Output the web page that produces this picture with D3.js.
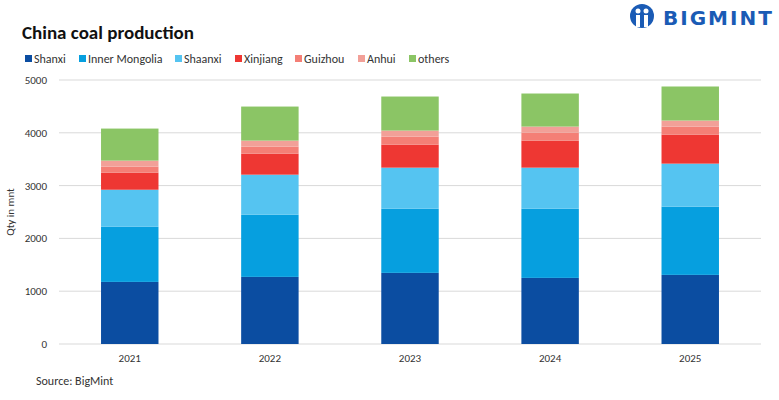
<!DOCTYPE html>
<html><head><meta charset="utf-8">
<script src="https://cdn.jsdelivr.net/npm/d3@7"></script>
<style>body{margin:0;background:#fff;font-family:Calibri,Carlito,"Liberation Sans",sans-serif}</style>
</head><body>
<svg id="chart" width="779" height="400"></svg>
<script>
const years = ["2021","2022","2023","2024","2025"];
const seriesNames = ["Shanxi","Inner Mongolia","Shaanxi","Xinjiang","Guizhou","Anhui","others"];
const shanxi = [1176,1271,1347,1252,1309];
const innerMongolia = [1044,1177,1215,1310,1291];
const shaanxi = [702,759,778,778,816];
const xinjiang = [323,398,436,512,550];
const guizhou = [114,133,152,152,152];
const anhui = [114,114,114,114,114];
const others = [607,645,645,626,645];
const colors = ["#0b4da1","#069fdf","#55c4f1","#ee3733","#f47f76","#f2a098","#8bc565"];
const yTicks = [0,1000,2000,3000,4000,5000];

const allSeries = [shanxi,innerMongolia,shaanxi,xinjiang,guizhou,anhui,others];
const rows = years.map((y,i)=>{ const r={year:y}; seriesNames.forEach((s,j)=>r[s]=allSeries[j][i]); return r; });
const stacked = d3.stack().keys(seriesNames)(rows);

const svg = d3.select("#chart");
const x = d3.scaleBand().domain(years).range([59,761]).paddingInner(0.59).paddingOuter(0.3);
const y = d3.scaleLinear().domain([0,5000]).range([344,80]);

// grid
svg.append("g").selectAll("line").data(yTicks.slice(1)).enter().append("line")
  .attr("x1",59).attr("x2",761).attr("y1",d=>y(d)).attr("y2",d=>y(d))
  .attr("stroke","#d9d9d9").attr("stroke-width",1);
svg.append("line").attr("x1",59).attr("x2",761).attr("y1",y(0)).attr("y2",y(0)).attr("stroke","#d9d9d9");

svg.append("g").selectAll("g").data(stacked).enter().append("g")
  .attr("fill",(d,i)=>colors[i])
  .selectAll("rect").data(d=>d).enter().append("rect")
  .attr("x",d=>x(d.data.year)).attr("width",x.bandwidth())
  .attr("y",d=>y(d[1])).attr("height",d=>y(d[0])-y(d[1]));

// axes
const ya = svg.append("g").attr("transform","translate(50,0)")
  .call(d3.axisLeft(y).tickValues(yTicks).tickSize(0).tickFormat(d3.format("d")));
ya.select(".domain").remove();
ya.selectAll("text").attr("font-size",11).attr("fill","#333").attr("font-family","Calibri,Carlito,sans-serif");
const xa = svg.append("g").attr("transform","translate(0,351)")
  .call(d3.axisBottom(x).tickSize(0));
xa.select(".domain").remove();
xa.selectAll("text").attr("font-size",11).attr("fill","#333").attr("font-family","Calibri,Carlito,sans-serif");

svg.append("text").attr("transform","translate(14,212) rotate(-90)").attr("text-anchor","middle")
  .attr("font-size",11).attr("fill","#333").text("Qty in mnt");

svg.append("text").attr("x",22).attr("y",39).attr("font-size",19).attr("font-weight","bold").attr("fill","#111").text("China coal production");
svg.append("text").attr("x",36).attr("y",385).attr("font-size",12).attr("fill","#333").text("Source: BigMint");

// legend
const legX = [25,79,175,235,295,358,409];
const leg = svg.append("g").selectAll("g").data(seriesNames).enter().append("g")
  .attr("transform",(d,i)=>`translate(${legX[i]},54)`);
leg.append("rect").attr("width",7).attr("height",7).attr("y",1).attr("fill",(d,i)=>colors[i]);
leg.append("text").attr("x",9).attr("y",8.5).attr("font-size",12).attr("fill","#333").text(d=>d);

// logo
const logo = svg.append("g").attr("transform","translate(642,16)");
logo.append("circle").attr("r",12).attr("fill","#1a5bb5");
logo.append("circle").attr("cx",-4).attr("cy",-5).attr("r",2.5).attr("fill","#fff");
logo.append("circle").attr("cx",4).attr("cy",-5).attr("r",2.5).attr("fill","#fff");
logo.append("rect").attr("x",-6).attr("y",-1).attr("width",4).attr("height",12).attr("fill","#fff");
logo.append("rect").attr("x",2).attr("y",-1).attr("width",4).attr("height",12).attr("fill","#fff");
svg.append("text").attr("x",663).attr("y",25).attr("font-size",20).attr("font-weight","bold")
  .attr("letter-spacing",2).attr("fill","#1a5bb5").attr("font-family","'DejaVu Sans',sans-serif").text("BIGMINT");
</script>
</body></html>
